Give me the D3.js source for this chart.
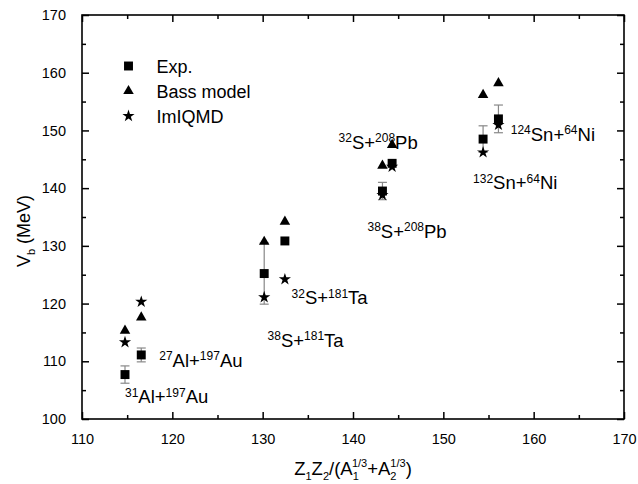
<!DOCTYPE html>
<html><head><meta charset="utf-8">
<script src="https://cdn.jsdelivr.net/npm/d3@7"></script>
<style>
html,body{margin:0;padding:0;background:#fff;}
svg text{font-family:"Liberation Sans",Arial,sans-serif;fill:#000;}
</style></head>
<body><svg id="chart" width="638" height="484"></svg>
<script>
// ---- data ----
const xVals   = [114.76, 116.56, 130.17, 132.46, 143.26, 144.33, 154.4, 156.1];
const expVals = [107.7, 111.1, 125.2, 130.85, 139.5, 144.3, 148.5, 152.0];
const expErr  = [1.5, 1.2, 5.3, 0, 1.5, 0, 2.3, 2.4];
const bassVals = [115.3, 117.6, 130.7, 134.2, 143.9, 147.5, 156.15, 158.2];
const imiqmdVals = [113.3, 120.3, 121.1, 124.2, 138.8, 143.7, 146.2, 150.95];
const legendNames = ["Exp.", "Bass model", "ImIQMD"];
const xTicks = [110, 120, 130, 140, 150, 160, 170];
const yTicks = [100, 110, 120, 130, 140, 150, 160, 170];
// reaction labels: [projMass, projSym, targMass, targSym], anchored in data units
const reactions = [
  ["27","Al","197","Au"], ["31","Al","197","Au"],
  ["32","S","181","Ta"], ["38","S","181","Ta"],
  ["32","S","208","Pb"], ["38","S","208","Pb"],
  ["124","Sn","64","Ni"], ["132","Sn","64","Ni"]
];
const reactionAnchorX = [118.55, 114.76, 133.2, 130.54, 138.4, 141.6, 157.46, 153.29];
const reactionAnchorY = [109.06, 102.72, 119.88, 112.53, 146.85, 131.42, 148.18, 139.81];

// ---- layout ----
const svg = d3.select("#chart");
const L = 82, R = 624, T = 15, B = 419;
const x = d3.scaleLinear().domain([110, 170]).range([L, R]);
const y = d3.scaleLinear().domain([100, 170]).range([B, T]);

const minorX = d3.range(110, 171, 5).filter(v => v % 10 !== 0);
const minorY = d3.range(100, 171, 5).filter(v => v % 10 !== 0);

function styleAxis(g) {
  g.select(".domain").remove();
  g.selectAll("line").attr("stroke", "#000").attr("stroke-width", 1.5);
  g.selectAll("text").attr("font-size", 14.5).attr("font-family", "Liberation Sans, Arial, sans-serif");
}
// bottom
svg.append("g").attr("transform", `translate(0,${B})`)
  .call(d3.axisBottom(x).tickValues(xTicks).tickSizeInner(-7).tickSizeOuter(0).tickPadding(15).tickFormat(d3.format("d")))
  .call(styleAxis);
svg.append("g").attr("transform", `translate(0,${B})`)
  .call(d3.axisBottom(x).tickValues(minorX).tickSizeInner(-4).tickSizeOuter(0).tickFormat(""))
  .call(styleAxis);
// top
svg.append("g").attr("transform", `translate(0,${T})`)
  .call(d3.axisTop(x).tickValues(xTicks).tickSizeInner(-7).tickSizeOuter(0).tickFormat(""))
  .call(styleAxis);
svg.append("g").attr("transform", `translate(0,${T})`)
  .call(d3.axisTop(x).tickValues(minorX).tickSizeInner(-4).tickSizeOuter(0).tickFormat(""))
  .call(styleAxis);
// left
svg.append("g").attr("transform", `translate(${L},0)`)
  .call(d3.axisLeft(y).tickValues(yTicks).tickSizeInner(-7).tickSizeOuter(0).tickPadding(16).tickFormat(d3.format("d")))
  .call(styleAxis);
svg.append("g").attr("transform", `translate(${L},0)`)
  .call(d3.axisLeft(y).tickValues(minorY).tickSizeInner(-4).tickSizeOuter(0).tickFormat(""))
  .call(styleAxis);
// right
svg.append("g").attr("transform", `translate(${R},0)`)
  .call(d3.axisRight(y).tickValues(yTicks).tickSizeInner(-7).tickSizeOuter(0).tickFormat(""))
  .call(styleAxis);
svg.append("g").attr("transform", `translate(${R},0)`)
  .call(d3.axisRight(y).tickValues(minorY).tickSizeInner(-4).tickSizeOuter(0).tickFormat(""))
  .call(styleAxis);
// frame
svg.append("rect").attr("x", L).attr("y", T).attr("width", R - L).attr("height", B - T)
  .attr("fill", "none").attr("stroke", "#000").attr("stroke-width", 1.6);

// ---- error bars ----
const eb = svg.append("g");
xVals.forEach((xv, i) => {
  const e = expErr[i];
  if (!e) return;
  const cx = x(xv), y1 = y(expVals[i] + e), y2 = y(expVals[i] - e);
  eb.append("line").attr("x1", cx).attr("x2", cx).attr("y1", y1).attr("y2", y2)
    .attr("stroke", "#888").attr("stroke-width", 1.2);
  [y1, y2].forEach(yy => eb.append("line").attr("x1", cx - 4.5).attr("x2", cx + 4.5)
    .attr("y1", yy).attr("y2", yy).attr("stroke", "#888").attr("stroke-width", 1.2));
});

// ---- markers ----
const sq = d3.symbol().type(d3.symbolSquare).size(80)();
const tri = d3.symbol().type(d3.symbolTriangle).size(48)();
const star = d3.symbol().type(d3.symbolStar).size(46)();
function drawSeries(vals, path) {
  svg.append("g").selectAll("path").data(vals).join("path")
    .attr("d", path)
    .attr("transform", (d, i) => `translate(${x(xVals[i])},${y(d)})`)
    .attr("fill", "#000");
}
drawSeries(bassVals, tri);
drawSeries(expVals, sq);
drawSeries(imiqmdVals, star);

// ---- legend ----
const legendSyms = [sq, tri, star];
const lg = svg.append("g");
legendNames.forEach((n, i) => {
  const ly = 66 + i * 25;
  lg.append("path").attr("d", legendSyms[i]).attr("transform", `translate(128.5,${ly})`).attr("fill", "#000");
  lg.append("text").attr("x", 156.5).attr("y", ly + 6.5).attr("font-size", 18).text(n);
});

// ---- reaction labels ----
reactions.forEach((r, i) => {
  const t = svg.append("text").attr("x", x(reactionAnchorX[i])).attr("y", y(reactionAnchorY[i]))
    .attr("font-size", 18.5);
  t.append("tspan").attr("font-size", 12).attr("dy", -6.5).text(r[0]);
  t.append("tspan").attr("dy", 6.5).text(r[1] + "+");
  t.append("tspan").attr("font-size", 12).attr("dy", -6.5).text(r[2]);
  t.append("tspan").attr("dy", 6.5).text(r[3]);
});

// ---- axis titles ----
const xt = svg.append("text").attr("x", (L + R) / 2).attr("y", 475).attr("text-anchor", "middle").attr("font-size", 18.5);
xt.append("tspan").text("Z");
xt.append("tspan").attr("font-size", 11).attr("dy", 5).text("1");
xt.append("tspan").attr("dy", -5).text("Z");
xt.append("tspan").attr("font-size", 11).attr("dy", 5).text("2");
xt.append("tspan").attr("dy", -5).text("/(A");
xt.append("tspan").attr("font-size", 11).attr("dy", 5).text("1");
xt.append("tspan").attr("font-size", 11).attr("dx", -6.1).attr("dy", -13).text("1/3");
xt.append("tspan").attr("dy", 8).text("+A");
xt.append("tspan").attr("font-size", 11).attr("dy", 5).text("2");
xt.append("tspan").attr("font-size", 11).attr("dx", -6.1).attr("dy", -13).text("1/3");
xt.append("tspan").attr("dy", 8).text(")");

const yt = svg.append("text").attr("transform", "translate(30,231) rotate(-90)").attr("text-anchor", "middle").attr("font-size", 18);
yt.append("tspan").text("V");
yt.append("tspan").attr("font-size", 11).attr("dy", 5).text("b");
yt.append("tspan").attr("dy", -5).text(" (MeV)");
</script></body></html>
